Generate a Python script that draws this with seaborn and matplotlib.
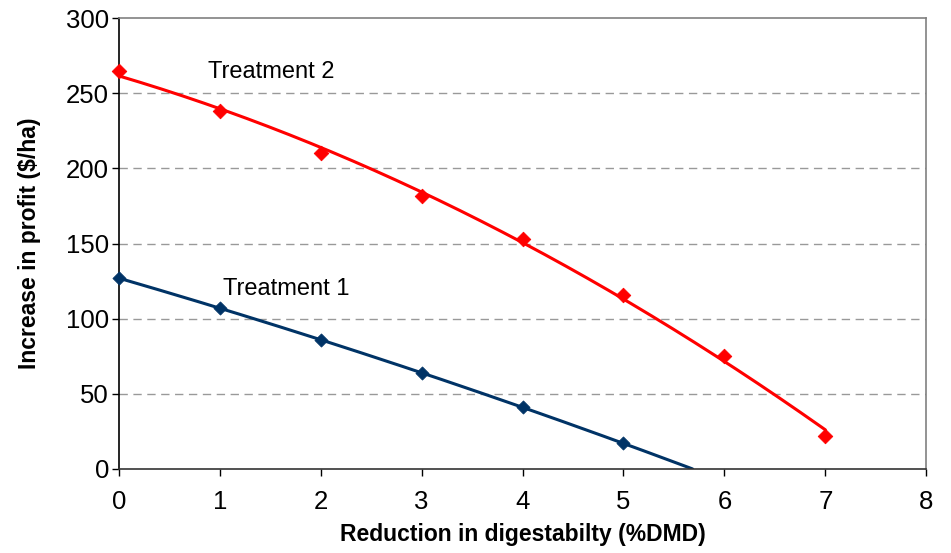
import numpy as np
import pandas as pd
import matplotlib
matplotlib.use("Agg")
import matplotlib.pyplot as plt
import seaborn as sns

x_t1 = [0, 1, 2, 3, 4, 5]
y_t1 = [127, 107, 86, 64, 41, 17]
x_t2 = [0, 1, 2, 3, 4, 5, 6, 7]
y_t2 = [265, 238, 210, 182, 153, 116, 75, 22]
labels = ["Treatment 1", "Treatment 2"]
xticks = [0, 1, 2, 3, 4, 5, 6, 7, 8]
yticks = [0, 50, 100, 150, 200, 250, 300]

sns.set_theme(style="white")
plt.rcParams['font.family'] = ['Liberation Sans', 'DejaVu Sans']
plt.rcParams['text.color'] = 'black'
plt.rcParams['axes.labelcolor'] = 'black'

fig, ax = plt.subplots(figsize=(9.51, 5.53), dpi=100)
fig.subplots_adjust(left=0.125, right=0.974, top=0.967, bottom=0.152)

blue = "#003366"
red = "#ff0000"

# trendlines (quadratic, as in the original spreadsheet)
c1 = np.polyfit(x_t1, y_t1, 2)
roots = [r.real for r in np.roots(c1) if abs(r.imag) < 1e-9 and r.real > 0]
xend = min(roots)
xs1 = np.linspace(0, xend, 200)
c2 = np.polyfit(x_t2, y_t2, 2)
xs2 = np.linspace(0, 7, 200)

sns.lineplot(x=xs1, y=np.polyval(c1, xs1), ax=ax, color=blue, lw=2.2)
sns.lineplot(x=xs2, y=np.polyval(c2, xs2), ax=ax, color=red, lw=2.2)
sns.scatterplot(x=x_t1, y=y_t1, ax=ax, marker="D", color=blue, s=45, edgecolor=blue, zorder=5, clip_on=False)
sns.scatterplot(x=x_t2, y=y_t2, ax=ax, marker="D", color=red, s=55, edgecolor=red, zorder=5, clip_on=False)

ax.text(0.88, 264, labels[1], fontsize=17, va="center", ha="left", color="black")
ax.text(1.03, 120, labels[0], fontsize=17, va="center", ha="left", color="black")

ax.set_xlim(0, 8)
ax.set_ylim(0, 300)
ax.set_xticks(xticks)
ax.set_yticks(yticks)
ax.tick_params(axis="both", labelsize=18.5, length=5, width=1, direction="out",
               bottom=True, left=True, colors="black")
ax.tick_params(axis="x", pad=10)
ax.tick_params(axis="y", pad=2)
for y in yticks[1:-1]:
    ax.axhline(y, color="#999999", lw=1, ls=(0, (6, 4)), zorder=0)

ax.spines["left"].set_color("black")
ax.spines["bottom"].set_color("#333333")
ax.spines["top"].set_color("#808080")
ax.spines["right"].set_color("#808080")
for s in ax.spines.values():
    s.set_linewidth(1.2)

ax.set_xlabel("Reduction in digestabilty (%DMD)", fontsize=16.5, fontweight="bold", labelpad=7)
ax.set_ylabel("Increase in profit ($/ha)", fontsize=16.5, fontweight="bold", labelpad=18)

fig.savefig("out.png", dpi=100)
